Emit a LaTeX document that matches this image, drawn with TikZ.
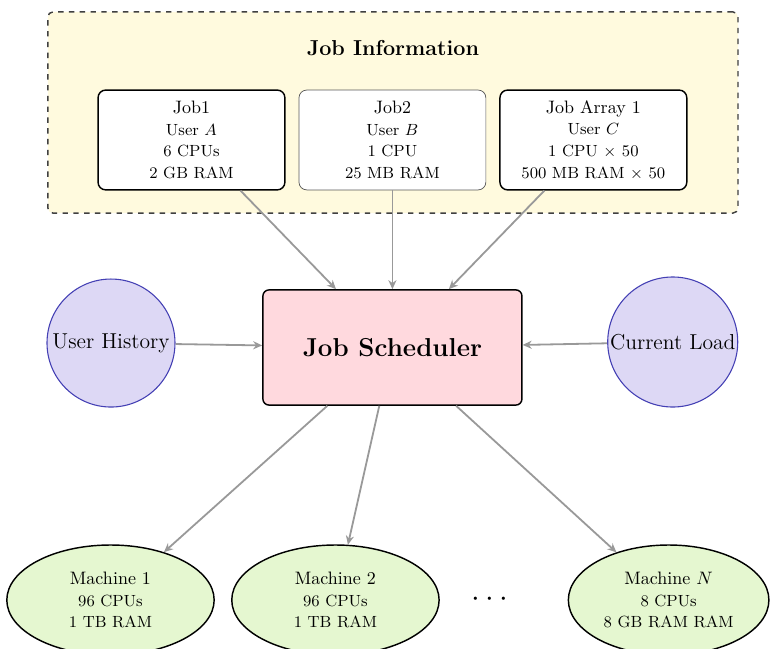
\documentclass[tikz,border=0pt]{standalone}
\usetikzlibrary{shapes.geometric,arrows.meta}
\definecolor{infofill}{RGB}{255,250,222}
\definecolor{schedfill}{RGB}{255,217,222}
\definecolor{factfill}{RGB}{221,216,245}
\definecolor{factdraw}{RGB}{68,64,180}
\definecolor{machfill}{RGB}{229,247,208}
\tikzset{
  infobox/.style={draw=black!75, dashed, thick, fill=infofill, rounded corners=0.1cm,
    minimum width=13.48cm, minimum height=3.93cm},
  jobbox/.style={draw, thick, fill=white, rounded corners=0.15cm, align=center,
    minimum width=3.65cm, minimum height=1.95cm, inner sep=2pt},
  schedbox/.style={draw, thick, fill=schedfill, rounded corners=0.12cm,
    minimum width=5.06cm, minimum height=2.25cm},
  factor/.style={circle, draw=factdraw, semithick, fill=factfill, inner sep=1pt, minimum size=2.5cm},
  machine/.style={ellipse, draw, thick, fill=machfill, align=center,
    minimum width=4.05cm, minimum height=2.15cm},
  flow/.style={draw=black!40, line width=1pt, -{Stealth[length=5pt,width=4.5pt]}}
}
\begin{document}
\begin{tikzpicture}
  \useasboundingbox (0,0) rectangle (15.04,-12.66);
  \node[infobox] (info) at (7.675,-2.197) {};
  \node (title) at (7.675,-0.94) {\large\bfseries Job Information};
  \node[jobbox] (job1) at (3.74,-2.734) {Job1\\\small User $A$\\\small 6 CPUs\\\small 2 GB RAM};
  \node[jobbox, draw=black!65, thin] (job2) at (7.665,-2.734) {Job2\\\small User $B$\\\small 1 CPU\\\small 25 MB RAM};
  \node[jobbox] (jobarr) at (11.59,-2.734) {Job Array 1\\\small User $C$\\\small 1 CPU $\times$ 50\\\small 500 MB RAM $\times$ 50};
  \node[schedbox] (sched) at (7.665,-6.787) {\Large\bfseries Job Scheduler};
  \node[factor] (hist) at (2.168,-6.70) {\large User History};
  \node[factor] (load) at (13.14,-6.68) {\large Current Load};
  \node[machine] (mach1) at (2.158,-11.72) {Machine 1\\\small 96 CPUs\\\small 1 TB RAM};
  \node[machine] (mach2) at (6.552,-11.72) {Machine 2\\\small 96 CPUs\\\small 1 TB RAM};
  \node[machine, minimum width=3.9cm] (machN) at (13.06,-11.72) {Machine $N$\\\small 8 CPUs\\\small 8 GB RAM RAM};
  \node (dots) at (9.57,-11.72) {\LARGE $\cdots$};
  \draw[flow] (job1) -- (sched);
  \draw[flow] (job2) -- (sched);
  \draw[flow] (jobarr) -- (sched);
  \draw[flow] (hist) -- (sched);
  \draw[flow] (load) -- (sched);
  \draw[flow] (sched) -- (mach1);
  \draw[flow] (sched) -- (mach2);
  \draw[flow] (sched) -- (machN);
\end{tikzpicture}
\end{document}
